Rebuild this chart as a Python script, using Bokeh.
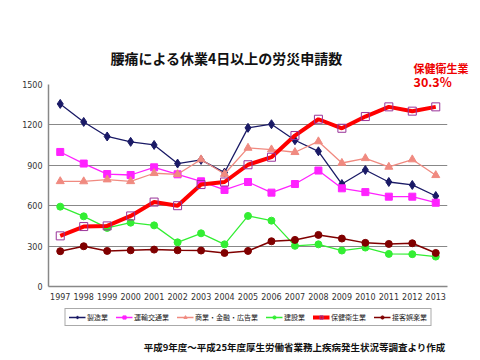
from bokeh.plotting import figure
from bokeh.models import Legend, LegendItem, FixedTicker, Range1d, Title, Label
from bokeh.layouts import column
from bokeh.embed import file_html
from bokeh.resources import INLINE

years = list(range(1997, 2014))
seizo = [1356, 1222, 1114, 1074, 1051, 913, 940, 846, 1178, 1205, 1086, 1004, 761, 865, 776, 754, 672]
unyu = [999, 913, 835, 828, 885, 833, 781, 717, 776, 697, 761, 861, 729, 701, 667, 667, 622]
shogyo = [781, 780, 794, 781, 841, 833, 943, 835, 1029, 1017, 997, 1077, 917, 952, 888, 943, 826]
kensetsu = [593, 521, 435, 474, 454, 328, 395, 313, 524, 489, 302, 313, 267, 289, 242, 240, 222]
hoken = [376, 445, 450, 524, 627, 600, 757, 776, 904, 960, 1121, 1242, 1175, 1262, 1334, 1302, 1334]
sekkyaku = [262, 299, 264, 269, 274, 269, 267, 249, 264, 336, 346, 383, 356, 324, 316, 321, 249]
y_ticks = [0, 300, 600, 900, 1200, 1500]

names = ["製造業", "運輸交通業", "商業・金融・広告業", "建設業", "保健衛生業", "接客娯楽業"]

JP = "Noto Sans CJK JP"
W, H1, H2 = 472, 306, 50
FL, FR = 48, 447  # plot frame left/right edge on the canvas

# style per series: (line color, line width, marker, size, fill, marker line)
styles = [
    ("#1a1a66", 1.3, "diamond", 9, "#1a1a66", "#1a1a66"),
    ("#ff22ff", 1.3, "square", 7, "#ff22ff", "#ff22ff"),
    ("#f08a80", 1.3, "triangle", 8, "#f08a80", "#f08a80"),
    ("#33ee33", 1.3, "circle", 7, "#33ee33", "#33ee33"),
    ("#ff0000", 4, "square", 8, None, "#993399"),
    ("#800000", 1.5, "circle", 7, "#800000", "#800000"),
]
data = [seizo, unyu, shogyo, kensetsu, hoken, sekkyaku]

p = figure(width=W, height=H1, frame_width=FR - FL, frame_height=202,
           output_backend="svg", toolbar_location=None,
           x_range=Range1d(1996.5, 2013.5), y_range=Range1d(0, 1500),
           min_border_left=FL, min_border_right=W - FR, min_border_top=84,
           min_border_bottom=H1 - 286)
p.outline_line_color = None
p.xgrid.visible = False
p.ygrid.grid_line_color = "#888888"
p.ygrid.grid_line_width = 1.2
p.yaxis.ticker = FixedTicker(ticks=y_ticks)
p.xaxis.ticker = FixedTicker(ticks=years)
for ax in (p.xaxis, p.yaxis):
    ax.major_label_text_font = "DejaVu Sans"
    ax.major_label_text_font_size = "8px"
    ax.major_label_text_color = "#333333"
    ax.axis_line_color = "#888888"
    ax.axis_line_width = 1.5
    ax.major_tick_line_color = None
    ax.minor_tick_line_color = None
    ax.major_tick_out = 0
    ax.major_tick_in = 0
    ax.minor_tick_out = 0
p.yaxis.major_label_standoff = 6
p.xaxis.major_label_standoff = 6

draw_order = [0, 1, 2, 3, 5, 4]
for i in draw_order:
    c, lw, mk, sz, fc, mc = styles[i]
    p.line(years, data[i], line_color=c, line_width=lw)
    p.scatter(years, data[i], marker=mk, size=sz, fill_color=fc, line_color=mc, line_width=1)

p.add_layout(Title(text="30.3%", text_font=JP, text_font_size="12.5px", text_font_style="bold",
                   text_color="#ee0000", align="left", offset=365, standoff=-13), "above")
p.add_layout(Title(text="保健衛生業", text_font=JP, text_font_size="11px",
                   text_color="#ee0000", align="left", offset=365, standoff=2), "above")
p.add_layout(Title(text="腰痛による休業4日以上の労災申請数", text_font=JP, text_font_size="14px",
                   text_font_style="bold", text_color="#111111", align="left", offset=62,
                   standoff=-22), "above")

# legend + source note figure; its frame matches the main frame's columns,
# and the x range is set so that data units equal canvas pixels
q = figure(width=W, height=H2, frame_width=FR - FL, frame_height=H2,
           output_backend="svg", toolbar_location=None,
           x_range=Range1d(FL, FR), y_range=Range1d(0, H2),
           x_axis_location=None, y_axis_location=None,
           min_border_left=FL, min_border_right=W - FR, min_border_top=0, min_border_bottom=0)
q.grid.visible = False
q.outline_line_color = None

items = []
for name, st in zip(names, styles):
    c, lw, mk, sz, fc, mc = st
    # legend-only renderers: points placed outside the visible range
    r1 = q.line([-50, -40], [-50, -50], line_color=c, line_width=lw)
    r2 = q.scatter([-45], [-50], marker=mk, size=sz - 2, fill_color=fc, line_color=mc, line_width=1)
    items.append(LegendItem(label=name, renderers=[r1, r2]))

legend = Legend(items=items, orientation="horizontal", location="top_center",
                label_text_font=JP, label_text_font_size="7px", label_text_color="#222222",
                glyph_width=17, glyph_height=8, label_standoff=2, spacing=7,
                padding=3, margin=2, border_line_color="#555555", border_line_width=1,
                background_fill_alpha=1, label_height=6)
q.add_layout(legend, "center")

q.add_layout(Label(x=445, y=10, text="平成9年度～平成25年度厚生労働省業務上疾病発生状況等調査より作成",
                   text_font=JP, text_font_size="9.5px", text_font_style="bold",
                   text_align="right", text_baseline="middle", text_color="#111111"))

layout = column(p, q, spacing=0)
open("out.html", "w").write(file_html(layout, INLINE))
